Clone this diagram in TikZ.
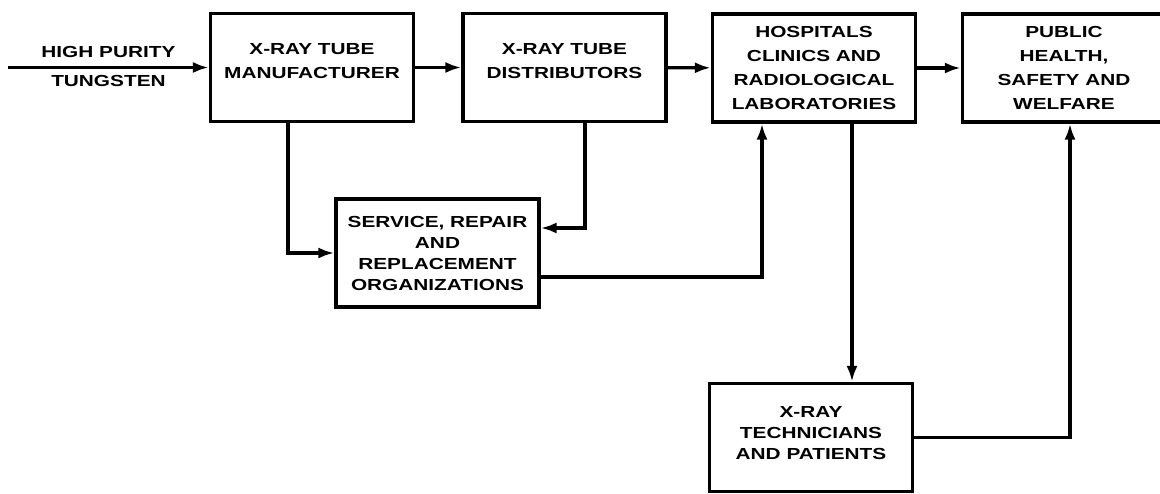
\documentclass[tikz,border=0pt]{standalone}
\usepackage{fontspec}
\newfontfamily\flowfont[FakeStretch=1.3]{Liberation Sans}
\usepackage{tikz}
\usetikzlibrary{arrows.meta}

\begin{document}
\begin{tikzpicture}[x=1pt,y=-1pt,
        box/.style={draw, line width=3.2pt, minimum width=203pt, minimum height=108pt,
                    align=center, font=\flowfont\bfseries\fontsize{16}{24}\selectfont},
        arr/.style={line width=3.2pt, -{Latex[length=16pt,width=11pt]}},
        lbl/.style={font=\flowfont\bfseries\fontsize{16}{23}\selectfont}]
                \useasboundingbox (0,0) rectangle (1160,493);
                \node[box] (manuf) at (312,67.5) {X-RAY TUBE\\MANUFACTURER\\[-11pt]};
                \node[box] (distr) at (564.5,67.5) {X-RAY TUBE\\DISTRIBUTORS\\[-11pt]};
                \node[box] (hosp) at (814,68) {HOSPITALS\\CLINICS AND\\RADIOLOGICAL\\LABORATORIES};
                \node[box] (pub) at (1064,68) {PUBLIC\\HEALTH,\\SAFETY AND\\WELFARE};
                \node[box, font=\flowfont\bfseries\fontsize{16}{21}\selectfont] (serv) at (437.5,253)
                        {SERVICE, REPAIR\\AND\\REPLACEMENT\\ORGANIZATIONS};
                \node[box, font=\flowfont\bfseries\fontsize{16}{21}\selectfont] (tech) at (811,437.5)
                        {X-RAY\\TECHNICIANS\\AND PATIENTS\\[-12pt]};
                \coordinate (src) at (8,67.5);

                \draw[arr] (src) -- node[lbl, above=5pt]{HIGH PURITY} node[lbl, below=3pt]{TUNGSTEN} (manuf);
                \draw[arr] (manuf) -- (distr);
                \draw[arr] (distr) -- (hosp);
                \draw[arr] (hosp) -- (pub);
                \draw[arr] ([xshift=-24pt]manuf.south) |- (serv.west);
                \draw[arr] ([xshift=20.5pt]distr.south) |- ([yshift=25pt]serv.east);
                \draw[arr] ([yshift=-24pt]serv.east) -| ([xshift=-52pt]hosp.south);
                \draw[arr] ([xshift=38pt]hosp.south) -- ([xshift=38pt]hosp.south |- tech.north);
                \draw[arr] (tech.east) -| ([xshift=6pt]pub.south);

            \end{tikzpicture}
\end{document}
